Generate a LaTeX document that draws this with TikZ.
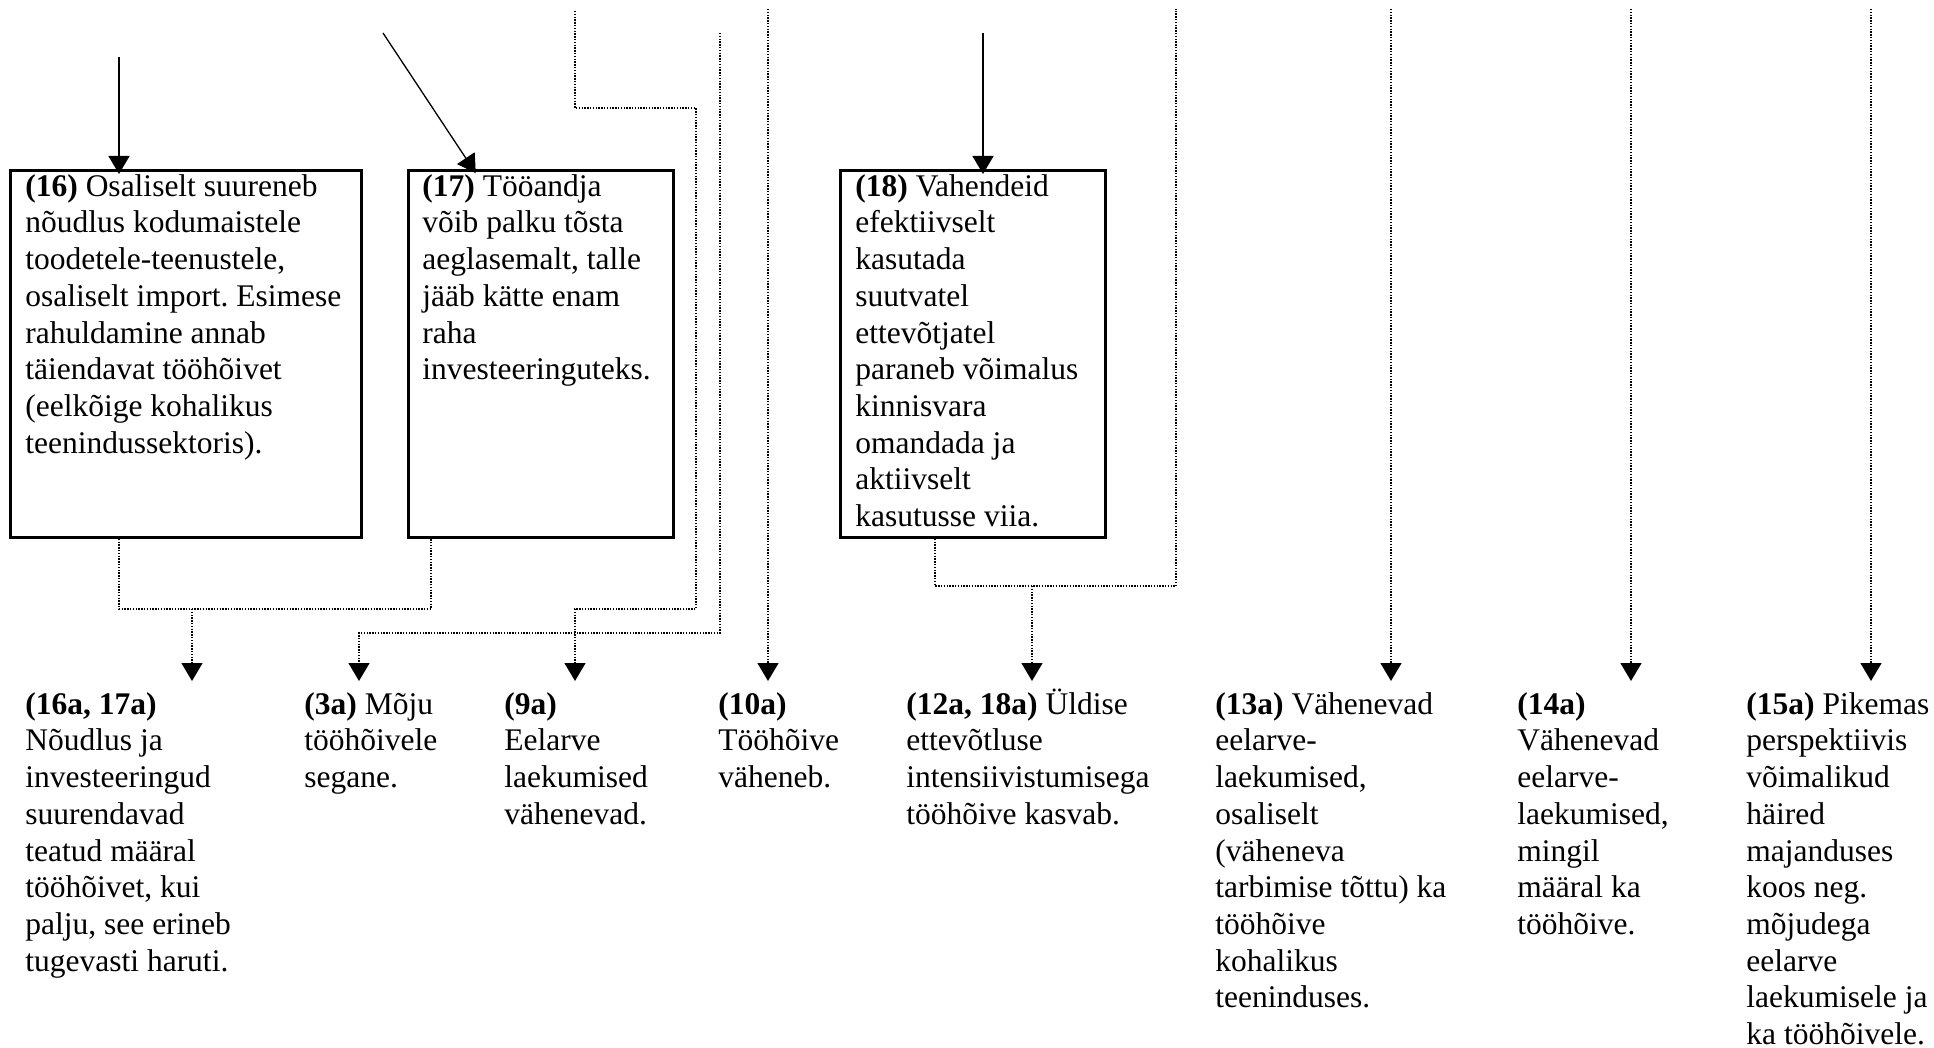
\documentclass[tikz,border=0pt]{standalone}
\usepackage{fontspec}
\setmainfont{Liberation Serif}
\frenchspacing
\usetikzlibrary{arrows.meta}

\tikzset{
    txt/.style={font=\fontsize{15.75pt}{18.35pt}\selectfont, align=left, inner sep=0pt, anchor=north west},
    box/.style={draw, line width=1.35pt, inner sep=0pt, anchor=north west, minimum height=183.5pt},
    solidarr/.style={line width=0.65pt, -{Triangle[width=10.5pt,length=9pt]}, shorten >=-2.5pt},
    dotline/.style={line width=0.7pt, dash pattern=on 0.7pt off 0.7pt},
    dotarr/.style={dotline, -{Triangle[width=10.5pt,length=9pt]}, shorten >=5.5pt},
}

\begin{document}
\begin{tikzpicture}[x=0.5pt, y=-0.5pt]
    \useasboundingbox (0,0) rectangle (1934,1048);

    % Boxes
    \node[box, minimum width=175.5pt] (b16) at (9,169) {};
    \node[box, minimum width=132.5pt] (b17) at (407,169) {};
    \node[box, minimum width=132.5pt] (b18) at (839,169) {};

    \node[txt] (t16) at ([xshift=8pt, yshift=-2.5pt]b16.north west)
        {\textbf{(16)} Osaliselt suureneb\\nõudlus kodumaistele\\toodetele-teenustele,\\osaliselt import. Esimese\\rahuldamine annab\\täiendavat tööhõivet\\(eelkõige kohalikus\\teenindussektoris).};
    \node[txt] (t17) at ([xshift=7.5pt, yshift=-2.5pt]b17.north west)
        {\textbf{(17)} Tööandja\\võib palku tõsta\\aeglasemalt, talle\\jääb kätte enam\\raha\\investeeringuteks.};
    \node[txt] (t18) at ([xshift=8pt, yshift=-2.5pt]b18.north west)
        {\textbf{(18)} Vahendeid\\efektiivselt\\kasutada\\suutvatel\\ettevõtjatel\\paraneb võimalus\\kinnisvara\\omandada ja\\aktiivselt\\kasutusse viia.};

    % Outcomes
    \node[txt] (o16) at (25,692) {\textbf{(16a, 17a)}\\Nõudlus ja\\investeeringud\\suurendavad\\teatud määral\\tööhõivet, kui\\palju, see erineb\\tugevasti haruti.};
    \node[txt] (o3) at (304,692) {\textbf{(3a)} Mõju\\tööhõivele\\segane.};
    \node[txt] (o9) at (504,692) {\textbf{(9a)}\\Eelarve\\laekumised\\vähenevad.};
    \node[txt] (o10) at (718,692) {\textbf{(10a)}\\Tööhõive\\väheneb.};
    \node[txt] (o12) at (906,692) {\textbf{(12a, 18a)} \smash{Ü}ldise\\ettevõtluse\\intensiivistumisega\\tööhõive kasvab.};
    \node[txt] (o13) at (1215,692) {\textbf{(13a)} Vähenevad\\eelarve-\\laekumised,\\osaliselt\\(väheneva\\tarbimise tõttu) ka\\tööhõive\\kohalikus\\teeninduses.};
    \node[txt] (o14) at (1517,692) {\textbf{(14a)}\\Vähenevad\\eelarve-\\laekumised,\\mingil\\määral ka\\tööhõive.};
    \node[txt] (o15) at (1746,692) {\textbf{(15a)} Pikemas\\perspektiivis\\võimalikud\\häired\\majanduses\\koos neg.\\mõjudega\\eelarve\\laekumisele ja\\ka tööhõivele.};

    % Free ends and junctions
    \coordinate (s16) at (119,57);
    \coordinate (s17) at (383,33);
    \coordinate (s18) at (983,33);
    \coordinate (fA) at (575,11);
    \coordinate (fB) at (720,33);
    \coordinate (fC) at (768,9);
    \coordinate (fD) at (1176,9);
    \coordinate (f13) at (1391,9);
    \coordinate (f14) at (1631,9);
    \coordinate (f15) at (1871,9);
    \coordinate (j16) at (192,609);
    \coordinate (j18) at (1032,586);
    \coordinate (kB) at (359,633);

    % Solid arrows into boxes
    \draw[solidarr] (s16) -- (s16 |- b16.north);
    \draw[solidarr] (s17) -- ([xshift=33pt]b17.north west);
    \draw[solidarr] (s18) -- (s18 |- b18.north);

    % Dotted connectors
    \draw[dotline] (b16.south -| s16) |- (j16) -| ([xshift=12pt]b17.south west);
    \draw[dotarr] (j16) -- (j16 |- o16.north);
    \draw[dotarr] (fA) |- (696,108) -- (696,609) -| (fA |- o9.north);
    \draw[dotarr] (fB) |- (kB) -- (kB |- o3.north);
    \draw[dotarr] (fC) -- (fC |- o10.north);
    \draw[dotline] ([xshift=48pt]b18.south west) |- (j18) -| (fD);
    \draw[dotarr] (j18) -- (j18 |- o12.north);
    \draw[dotarr] (f13) -- (f13 |- o13.north);
    \draw[dotarr] (f14) -- (f14 |- o14.north);
    \draw[dotarr] (f15) -- (f15 |- o15.north);
\end{tikzpicture}
\end{document}
